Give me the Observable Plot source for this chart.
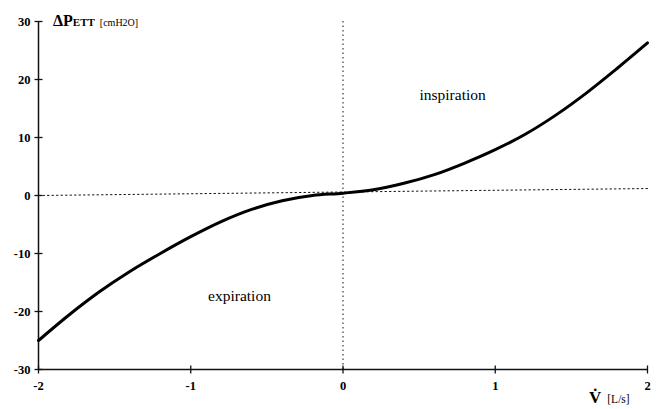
<!DOCTYPE html>
<html>
<head>
<meta charset="utf-8">
<script src="https://cdn.jsdelivr.net/npm/d3@7"></script>
<script src="https://cdn.jsdelivr.net/npm/@observablehq/plot@0.6"></script>
<style>
  html, body { margin: 0; padding: 0; background: #fff; }
  #chart svg { display: block; }
</style>
</head>
<body>
<div id="chart"></div>
<script>
// Pressure drop across the endotracheal tube versus flow
const flowV = [-2.0, -1.8, -1.6, -1.4, -1.2, -1.0, -0.8, -0.6, -0.4, -0.2, 0.0,
               0.2, 0.4, 0.6, 0.8, 1.0, 1.2, 1.4, 1.6, 1.8, 2.0];
const pressureP = [-25.0, -20.6, -16.6, -13.1, -10.0, -7.1, -4.5, -2.4, -0.9, 0.0, 0.4,
                   1.0, 2.1, 3.6, 5.6, 7.9, 10.6, 13.9, 17.7, 21.9, 26.3];

// dotted reference line near zero
const baseV = [-2, 2];
const baseP = [0, 1.2];

const xTicks = [-2, -1, 0, 1, 2];
const yTicks = [-30, -20, -10, 0, 10, 20, 30];

const regionLabels = ["inspiration", "expiration"];
const regionV = [0.72, -0.68];
const regionP = [17.3, -17.3];

const curve = flowV.map((v, i) => ({v, p: pressureP[i]}));
const baseline = baseV.map((v, i) => ({v, p: baseP[i]}));
const regions = regionLabels.map((t, i) => ({t, v: regionV[i], p: regionP[i]}));

const fmt = d => `${d}`;
const serif = "'Liberation Serif', 'DejaVu Serif', serif";

// tick glyphs that straddle the axis line
const hTick = {draw(ctx, size) { const r = Math.sqrt(size / Math.PI); ctx.moveTo(-r, 0); ctx.lineTo(r, 0); }};
const vTick = {draw(ctx, size) { const r = Math.sqrt(size / Math.PI); ctx.moveTo(0, -r); ctx.lineTo(0, r); }};

const chart = Plot.plot({
  width: 660,
  height: 409,
  marginLeft: 38,
  marginRight: 13,
  marginTop: 21,
  marginBottom: 40,
  style: {fontFamily: serif, background: "#fff", color: "#000"},
  x: {domain: [-2, 2]},
  y: {domain: [-30, 30]},
  marks: [
    // axis lines
    Plot.ruleX([-2], {y1: -30, y2: 30, stroke: "#111", strokeWidth: 1.5}),
    Plot.ruleY([-30], {x1: -2, x2: 2, stroke: "#111", strokeWidth: 1.5}),
    // crossing tick marks
    Plot.dot(yTicks, {x: -2, y: d => d, r: 4, symbol: hTick, stroke: "#111", fill: "none", strokeWidth: 1.3}),
    Plot.dot(xTicks, {x: d => d, y: -30, r: 4, symbol: vTick, stroke: "#111", fill: "none", strokeWidth: 1.3}),
    // tick labels
    Plot.axisY({ticks: yTicks, tickSize: 0, tickPadding: 8, tickFormat: fmt, label: null,
                fontSize: 12.5, fontWeight: "bold"}),
    Plot.axisX({ticks: xTicks, tickSize: 0, tickPadding: 12, tickFormat: fmt, label: null,
                fontSize: 12.5, fontWeight: "bold"}),
    // dotted zero references
    Plot.ruleX([0], {stroke: "#111", strokeWidth: 1, strokeDasharray: "1.5,3"}),
    Plot.line(baseline, {x: "v", y: "p", stroke: "#111", strokeWidth: 1, strokeDasharray: "1.5,3"}),
    // pressure-flow curve
    Plot.line(curve, {x: "v", y: "p", curve: "catmull-rom", stroke: "#000", strokeWidth: 3}),
    // region labels
    Plot.text(regions, {x: "v", y: "p", text: "t", fontSize: 15.5, fill: "#000"})
  ]
});

document.getElementById("chart").appendChild(chart);

// axis titles with mixed type sizes
const svg = d3.select(chart);
const yTitle = svg.append("text")
  .attr("x", 53).attr("y", 26).attr("text-anchor", "start")
  .attr("font-family", serif).attr("font-weight", "bold").attr("fill", "#000");
yTitle.append("tspan").attr("font-size", 16).text("ΔP");
yTitle.append("tspan").attr("font-size", 11).text("ETT");
yTitle.append("tspan").attr("font-size", 10).attr("dx", 5).attr("font-weight", "normal").text("[cmH2O]");

const xTitle = svg.append("text")
  .attr("x", 589).attr("y", 403).attr("text-anchor", "start")
  .attr("font-family", serif).attr("font-weight", "bold").attr("fill", "#000");
xTitle.append("tspan").attr("font-size", 17).text("V̇");
xTitle.append("tspan").attr("font-size", 11.5).attr("dx", 6).attr("font-weight", "normal").text("[L/s]");
</script>
</body>
</html>
